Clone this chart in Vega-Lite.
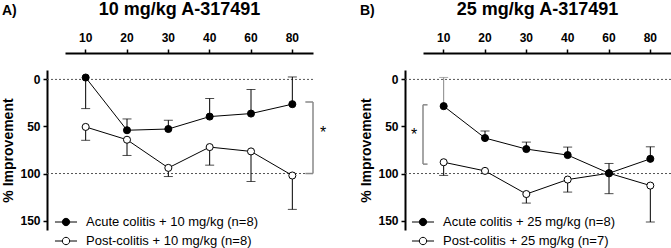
{
  "$schema": "https://vega.github.io/schema/vega-lite/v6.json",
  "padding": {"left": 1, "top": 0, "right": 0, "bottom": 0},
  "config": {
    "font": "Liberation Sans",
    "view": {"stroke": null},
    "axis": {"grid": false, "domainColor": "black", "tickColor": "black", "labelColor": "black", "titleColor": "black"}
  },
  "spacing": 32,
  "resolve": {"scale": {"x": "independent", "y": "independent", "fill": "independent"}, "legend": {"fill": "independent"}},
  "hconcat": [
    {
      "width": 266,
      "height": 160,
      "title": {"text": "A)", "anchor": "start", "frame": "bounds", "fontSize": 14, "fontWeight": "bold", "color": "black", "dy": 18, "offset": 0},
      "layer": [
        {
          "data": {"values": [{"ref": 0}, {"ref": 100}]},
          "mark": {"type": "rule", "strokeDash": [2, 2], "color": "#555", "strokeWidth": 1},
          "encoding": {
            "y": {"field": "ref", "type": "quantitative"}
          }
        },
        {
          "data": {"values": [{"time": "80", "top": 24, "bottom": 100}]},
          "mark": {"type": "rule", "color": "#888", "strokeWidth": 1.5},
          "encoding": {
            "x": {"field": "time", "type": "ordinal", "bandPosition": 1},
            "y": {"field": "top", "type": "quantitative"},
            "y2": {"field": "bottom"}
          }
        },
        {
          "data": {"values": [{"time": "80", "arm": 24}, {"time": "80", "arm": 100}]},
          "mark": {"type": "rule", "color": "#888", "strokeWidth": 1.5},
          "encoding": {
            "x": {"field": "time", "type": "ordinal", "bandPosition": 0.815},
            "x2": {"field": "time", "bandPosition": 1},
            "y": {"field": "arm", "type": "quantitative"}
          }
        },
        {
          "data": {"values": [{"time": "80", "label": "*", "pos": 57}]},
          "mark": {"type": "text", "fontSize": 16, "dx": 10, "baseline": "middle", "color": "black"},
          "encoding": {
            "x": {"field": "time", "type": "ordinal", "bandPosition": 1},
            "y": {"field": "pos", "type": "quantitative"},
            "text": {"field": "label"}
          }
        },
        {
          "data": {"name": "panelA"},
          "layer": [
            {
              "mark": {"type": "rule", "color": "black", "strokeWidth": 1},
              "encoding": {
                "x": {"field": "time", "type": "ordinal", "bandPosition": 0.5,
                  "scale": {"type": "band", "domain": ["10", "20", "30", "40", "60", "80"], "range": [18, 266], "paddingInner": 0, "paddingOuter": 0},
                  "axis": {"orient": "top", "offset": 17, "title": "10 mg/kg A-317491", "titleX": 132, "titleFontSize": 18, "titleFontWeight": "bold", "titlePadding": 13, "labelAngle": 0, "labelAlign": "center", "labelFontSize": 12, "labelFontWeight": "bold", "labelPadding": 12, "tickSize": 4, "tickWidth": 1.5, "domainWidth": 2, "bandPosition": 0.5}},
                "y": {"field": "mean", "type": "quantitative",
                  "scale": {"domain": [-10, 160], "reverse": true, "nice": false, "zero": false},
                  "axis": {"title": "% Improvement", "titleFontSize": 14, "titleFontWeight": "bold", "titlePadding": 4, "values": [0, 50, 100, 150], "labelFontSize": 12, "labelFontWeight": "bold", "labelPadding": 3, "tickSize": 4, "tickWidth": 1.5, "domainWidth": 2}},
                "y2": {"field": "err"}
              }
            },
            {
              "mark": {"type": "tick", "color": "black", "size": 9, "thickness": 1, "orient": "horizontal"},
              "encoding": {
                "x": {"field": "time", "type": "ordinal", "bandPosition": 0.5},
                "y": {"field": "err", "type": "quantitative"}
              }
            },
            {
              "mark": {"type": "line", "color": "black", "strokeWidth": 1},
              "encoding": {
                "x": {"field": "time", "type": "ordinal", "bandPosition": 0.5},
                "y": {"field": "mean", "type": "quantitative"},
                "detail": {"field": "series"}
              }
            },
            {
              "mark": {"type": "point", "shape": "circle", "filled": true, "stroke": "black", "strokeWidth": 1, "size": 50, "opacity": 1},
              "encoding": {
                "x": {"field": "time", "type": "ordinal", "bandPosition": 0.5},
                "y": {"field": "mean", "type": "quantitative"},
                "order": {"field": "rank"},
                "fill": {"field": "series", "type": "nominal",
                  "scale": {"domain": ["Acute colitis + 10 mg/kg (n=8)", "Post-colitis + 10 mg/kg (n=8)"], "range": ["black", "white"]},
                  "legend": {"orient": "none", "legendX": 11, "legendY": 144, "title": null, "symbolType": "M-1.5,0L-0.5,0M0.5,0L1.5,0M0.5,0A0.5,0.5,0,1,1,-0.5,0A0.5,0.5,0,1,1,0.5,0Z", "symbolSize": 216, "symbolStrokeColor": "black", "symbolStrokeWidth": 1, "labelFontSize": 13, "labelLimit": 400, "labelColor": "black", "labelOffset": 12, "rowPadding": 4, "padding": 0}}
              }
            }
          ]
        }
      ]
    },
    {
      "width": 266,
      "height": 160,
      "title": {"text": "B)", "anchor": "start", "frame": "bounds", "fontSize": 14, "fontWeight": "bold", "color": "black", "dy": 18, "offset": 0},
      "layer": [
        {
          "data": {"values": [{"ref": 0}, {"ref": 100}]},
          "mark": {"type": "rule", "strokeDash": [2, 2], "color": "#555", "strokeWidth": 1},
          "encoding": {
            "y": {"field": "ref", "type": "quantitative"}
          }
        },
        {
          "data": {"values": [{"time": "10", "top": 27, "bottom": 90}]},
          "mark": {"type": "rule", "color": "#888", "strokeWidth": 1.5},
          "encoding": {
            "x": {"field": "time", "type": "ordinal", "bandPosition": 0},
            "y": {"field": "top", "type": "quantitative"},
            "y2": {"field": "bottom"}
          }
        },
        {
          "data": {"values": [{"time": "10", "arm": 27}, {"time": "10", "arm": 90}]},
          "mark": {"type": "rule", "color": "#888", "strokeWidth": 1.5},
          "encoding": {
            "x": {"field": "time", "type": "ordinal", "bandPosition": 0},
            "x2": {"field": "time", "bandPosition": 0.11},
            "y": {"field": "arm", "type": "quantitative"}
          }
        },
        {
          "data": {"values": [{"time": "10", "label": "*", "pos": 59}]},
          "mark": {"type": "text", "fontSize": 16, "dx": -9, "baseline": "middle", "color": "black"},
          "encoding": {
            "x": {"field": "time", "type": "ordinal", "bandPosition": 0},
            "y": {"field": "pos", "type": "quantitative"},
            "text": {"field": "label"}
          }
        },
        {
          "data": {"name": "panelB"},
          "layer": [
            {
              "mark": {"type": "rule", "strokeWidth": 1},
              "encoding": {
                "x": {"field": "time", "type": "ordinal", "bandPosition": 0.5,
                  "scale": {"type": "band", "domain": ["10", "20", "30", "40", "60", "80"], "range": [18, 266], "paddingInner": 0, "paddingOuter": 0},
                  "axis": {"orient": "top", "offset": 17, "title": "25 mg/kg A-317491", "titleX": 132, "titleFontSize": 18, "titleFontWeight": "bold", "titlePadding": 13, "labelAngle": 0, "labelAlign": "center", "labelFontSize": 12, "labelFontWeight": "bold", "labelPadding": 12, "tickSize": 4, "tickWidth": 1.5, "domainWidth": 2, "bandPosition": 0.5}},
                "y": {"field": "mean", "type": "quantitative",
                  "scale": {"domain": [-10, 160], "reverse": true, "nice": false, "zero": false},
                  "axis": {"title": "% Improvement", "titleFontSize": 14, "titleFontWeight": "bold", "titlePadding": 4, "values": [0, 50, 100, 150], "labelFontSize": 12, "labelFontWeight": "bold", "labelPadding": 3, "tickSize": 4, "tickWidth": 1.5, "domainWidth": 2}},
                "y2": {"field": "err"},
                "color": {"condition": {"test": "datum.time === '10' && datum.rank === 2", "value": "#888"}, "value": "black"}
              }
            },
            {
              "mark": {"type": "tick", "size": 9, "thickness": 1, "orient": "horizontal"},
              "encoding": {
                "x": {"field": "time", "type": "ordinal", "bandPosition": 0.5},
                "y": {"field": "err", "type": "quantitative"},
                "color": {"condition": {"test": "datum.time === '10' && datum.rank === 2", "value": "#888"}, "value": "black"}
              }
            },
            {
              "mark": {"type": "line", "color": "black", "strokeWidth": 1},
              "encoding": {
                "x": {"field": "time", "type": "ordinal", "bandPosition": 0.5},
                "y": {"field": "mean", "type": "quantitative"},
                "detail": {"field": "series"}
              }
            },
            {
              "mark": {"type": "point", "shape": "circle", "filled": true, "stroke": "black", "strokeWidth": 1, "size": 50, "opacity": 1},
              "encoding": {
                "x": {"field": "time", "type": "ordinal", "bandPosition": 0.5},
                "y": {"field": "mean", "type": "quantitative"},
                "order": {"field": "rank"},
                "fill": {"field": "series", "type": "nominal",
                  "scale": {"domain": ["Acute colitis + 25 mg/kg (n=8)", "Post-colitis + 25 mg/kg (n=7)"], "range": ["black", "white"]},
                  "legend": {"orient": "none", "legendX": 10, "legendY": 144, "title": null, "symbolType": "M-1.5,0L-0.5,0M0.5,0L1.5,0M0.5,0A0.5,0.5,0,1,1,-0.5,0A0.5,0.5,0,1,1,0.5,0Z", "symbolSize": 216, "symbolStrokeColor": "black", "symbolStrokeWidth": 1, "labelFontSize": 13, "labelLimit": 400, "labelColor": "black", "labelOffset": 12, "rowPadding": 4, "padding": 0}}
              }
            }
          ]
        }
      ]
    }
  ],
  "datasets": {
    "panelA": [
      {"series": "Post-colitis + 10 mg/kg (n=8)", "rank": 1, "time": "10", "mean": 50.5, "err": 64.7},
      {"series": "Post-colitis + 10 mg/kg (n=8)", "rank": 1, "time": "20", "mean": 64.1, "err": 80.8},
      {"series": "Post-colitis + 10 mg/kg (n=8)", "rank": 1, "time": "30", "mean": 94, "err": 103.2},
      {"series": "Post-colitis + 10 mg/kg (n=8)", "rank": 1, "time": "40", "mean": 71.9, "err": 91.1},
      {"series": "Post-colitis + 10 mg/kg (n=8)", "rank": 1, "time": "60", "mean": 76.5, "err": 108.5},
      {"series": "Post-colitis + 10 mg/kg (n=8)", "rank": 1, "time": "80", "mean": 102.1, "err": 138.1},
      {"series": "Acute colitis + 10 mg/kg (n=8)", "rank": 2, "time": "10", "mean": -2, "err": 31},
      {"series": "Acute colitis + 10 mg/kg (n=8)", "rank": 2, "time": "20", "mean": 54, "err": 42},
      {"series": "Acute colitis + 10 mg/kg (n=8)", "rank": 2, "time": "30", "mean": 52.7, "err": 43.4},
      {"series": "Acute colitis + 10 mg/kg (n=8)", "rank": 2, "time": "40", "mean": 39.5, "err": 20.3},
      {"series": "Acute colitis + 10 mg/kg (n=8)", "rank": 2, "time": "60", "mean": 36.3, "err": 10.7},
      {"series": "Acute colitis + 10 mg/kg (n=8)", "rank": 2, "time": "80", "mean": 26.3, "err": -2.6}
    ],
    "panelB": [
      {"series": "Post-colitis + 25 mg/kg (n=7)", "rank": 1, "time": "10", "mean": 88, "err": 102},
      {"series": "Post-colitis + 25 mg/kg (n=7)", "rank": 1, "time": "20", "mean": 97.2, "err": 100},
      {"series": "Post-colitis + 25 mg/kg (n=7)", "rank": 1, "time": "30", "mean": 121.8, "err": 131.4},
      {"series": "Post-colitis + 25 mg/kg (n=7)", "rank": 1, "time": "40", "mean": 106.4, "err": 119.7},
      {"series": "Post-colitis + 25 mg/kg (n=7)", "rank": 1, "time": "60", "mean": 99.7, "err": 121.4},
      {"series": "Post-colitis + 25 mg/kg (n=7)", "rank": 1, "time": "80", "mean": 112.8, "err": 151.5},
      {"series": "Acute colitis + 25 mg/kg (n=8)", "rank": 2, "time": "10", "mean": 28.4, "err": -2.1},
      {"series": "Acute colitis + 25 mg/kg (n=8)", "rank": 2, "time": "20", "mean": 62.3, "err": 54.8},
      {"series": "Acute colitis + 25 mg/kg (n=8)", "rank": 2, "time": "30", "mean": 74, "err": 66.6},
      {"series": "Acute colitis + 25 mg/kg (n=8)", "rank": 2, "time": "40", "mean": 80.4, "err": 71.9},
      {"series": "Acute colitis + 25 mg/kg (n=8)", "rank": 2, "time": "60", "mean": 99.7, "err": 89.3},
      {"series": "Acute colitis + 25 mg/kg (n=8)", "rank": 2, "time": "80", "mean": 84.4, "err": 71.6}
    ]
  }
}
